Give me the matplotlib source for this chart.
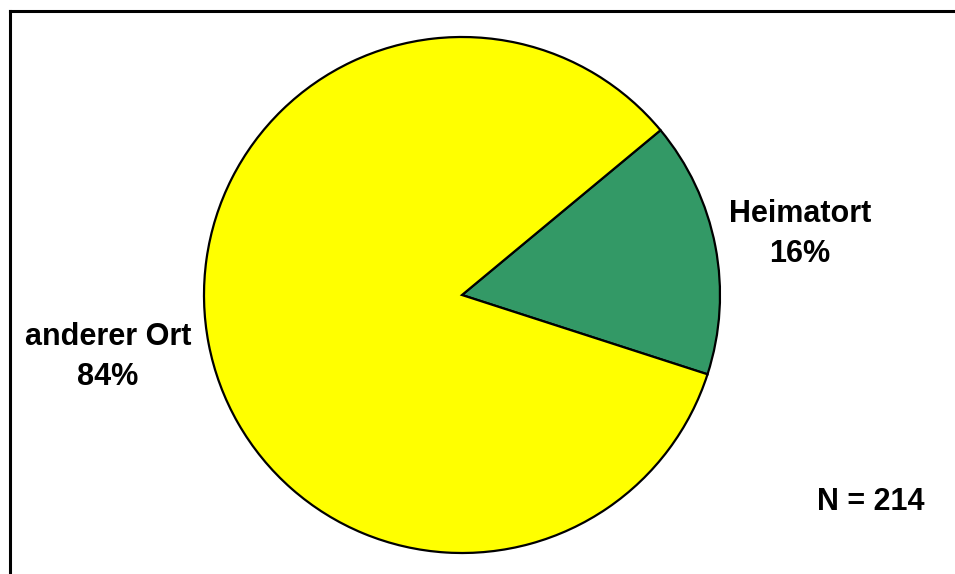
import matplotlib
matplotlib.use("Agg")
import matplotlib.pyplot as plt
from matplotlib.lines import Line2D

labels = ["Heimatort", "anderer Ort"]
shares = [16, 84]
colors = ["#339966", "#FFFF00"]
n_total = 214

W, H = 955, 574
fig = plt.figure(figsize=(W / 100, H / 100), dpi=100)
ax = fig.add_axes([0, 0, 1, 1])
ax.set_xlim(0, W)
ax.set_ylim(0, H)
ax.set_aspect("equal")
ax.axis("off")

ax.pie(shares, colors=colors, startangle=-17.9, counterclock=True,
       center=(462, H - 295), radius=258, frame=True,
       wedgeprops=dict(edgecolor="black", linewidth=1.6))
ax.set_xlim(0, W)
ax.set_ylim(0, H)
ax.axis("off")

font = dict(family=["Liberation Sans", "DejaVu Sans"], fontweight="bold",
            fontsize=22, color="black", linespacing=1.42)
ax.text(800, H - 234, f"{labels[0]}\n{shares[0]}%", ha="center", va="center", **font)
ax.text(108, H - 357, f"{labels[1]}\n{shares[1]}%", ha="center", va="center", **font)
ax.text(871, H - 502, f"N = {n_total}", ha="center", va="center", **font)

# chart area border (left and top edges inside the image)
fig.add_artist(Line2D([9.5 / W, 9.5 / W], [0, 1 - 10.5 / H], color="black", lw=2.2))
fig.add_artist(Line2D([9.5 / W, 1], [1 - 10.5 / H, 1 - 10.5 / H], color="black", lw=2.2))

fig.savefig("out.png", dpi=100)
